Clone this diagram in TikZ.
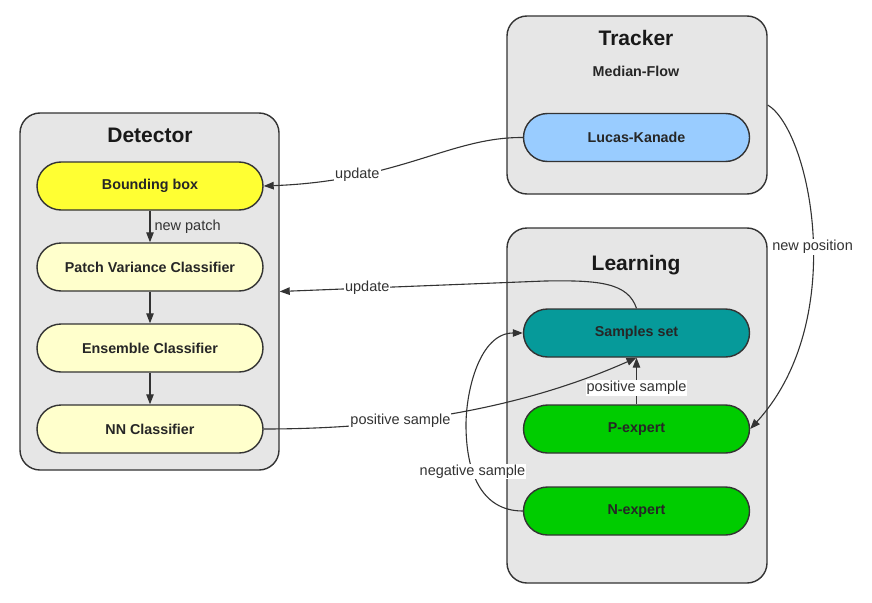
\documentclass[tikz,border=0pt]{standalone}
\usepackage{fontspec}
\setmainfont{Liberation Sans}
\usetikzlibrary{arrows.meta}
\definecolor{linec}{HTML}{333333}
\definecolor{boxgray}{HTML}{E6E6E6}
\definecolor{bbyellow}{HTML}{FFFF33}
\definecolor{lightyellow}{HTML}{FFFFCC}
\definecolor{lkblue}{HTML}{99CCFF}
\definecolor{ssteal}{HTML}{069A9A}
\definecolor{expgreen}{HTML}{00CC00}
\begin{document}
\begin{tikzpicture}[x=1pt,y=-1pt,
  container/.style={draw=linec, fill=boxgray, line width=1.4pt, rounded corners=20pt, inner sep=0pt},
  pill/.style={draw=linec, line width=1.4pt, rounded corners=24pt, minimum width=226pt, minimum height=48pt, inner sep=0pt, font=\fontsize{14.3}{17}\selectfont\bfseries, text=black!85},
  titletext/.style={font=\fontsize{21}{25}\selectfont\bfseries, text=black!90},
  subtitle/.style={font=\fontsize{14.3}{17}\selectfont\bfseries, text=black!85},
  conn/.style={draw=linec, line width=1.1pt, -{Triangle[length=10pt,width=7.5pt]}},
  lbl/.style={fill=white, inner sep=1pt, font=\fontsize{14.5}{17}\selectfont, text=linec},
  plainlbl/.style={inner sep=1pt, font=\fontsize{14.5}{17}\selectfont, text=linec}
]
\useasboundingbox (0,0) rectangle (872,602);
\fill[white] (0,0) rectangle (872,602);

% containers
\node[container, minimum width=259pt, minimum height=357pt] (det) at (149.5,291.5) {};
\node[container, minimum width=260pt, minimum height=178pt] (trk) at (637,105) {};
\node[container, minimum width=260pt, minimum height=355pt] (lrn) at (637,405.5) {};

\node[titletext] (dett) at (150,135) {Detector};
\node[titletext] (trkt) at (636,38) {Tracker};
\node[subtitle] (mf) at (636,71) {Median-Flow};
\node[titletext] (lrnt) at (636,265) {Learning};

% pills
\node[pill, fill=bbyellow] (bb) at (150,186) {Bounding box};
\node[pill, fill=lightyellow] (pv) at (150,267) {Patch Variance Classifier};
\node[pill, fill=lightyellow] (ec) at (150,348) {Ensemble Classifier};
\node[pill, fill=lightyellow] (nn) at (150,429) {NN Classifier};

\node[pill, fill=lkblue] (lk) at (636.5,137.5) {Lucas-Kanade};
\node[pill, fill=ssteal] (ss) at (636.5,333) {Samples set};
\node[pill, fill=expgreen] (pe) at (636.5,429) {P-expert};
\node[pill, fill=expgreen] (ne) at (636.5,511) {N-expert};

% connectors
\draw[conn] (bb) -- node[plainlbl, right=3pt] {new patch} (pv);
\draw[conn] (pv) -- (ec);
\draw[conn] (ec) -- (nn);

\draw[conn] (lk.west) .. controls (450,137) and (400,181) .. node[lbl, pos=0.73] {update} (bb.east);

\draw[conn] (ss.north) .. controls (628,283) and (600,280) .. (545,281) -- node[lbl, pos=0.67] {update} (det.east);

\draw[conn] (nn.east) .. controls (410,429) and (530,405) .. node[lbl, pos=0.33] {positive sample} (ss.south);

\draw[conn] (pe.north) -- node[lbl, pos=0.35] {positive sample} (ss.south);

\draw[conn] (ne.west) .. controls (480,511) and (466,470) .. node[lbl, pos=0.63] {negative sample} (466,425) .. controls (466,390) and (480,333) .. (ss.west);

\draw[conn] (trk.east) .. controls (810,130) and (850,320) .. node[lbl, pos=0.53] {new position} (pe.east);
\end{tikzpicture}
\end{document}
